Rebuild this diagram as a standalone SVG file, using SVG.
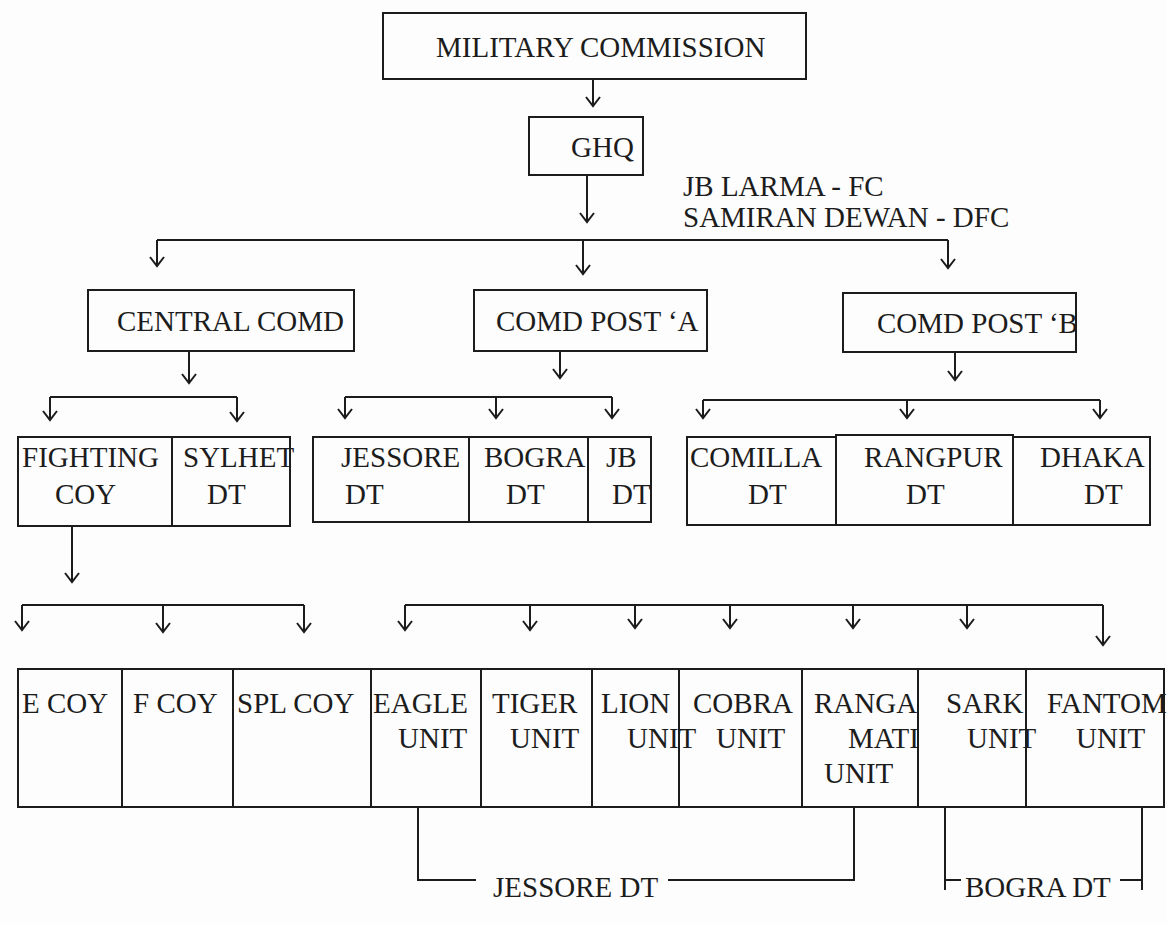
<svg xmlns="http://www.w3.org/2000/svg" width="1167" height="925" viewBox="0 0 1167 925">
<defs>
<style>
.bg{fill:#fdfdfd}
.box{fill:none;stroke:#1c1c1c;stroke-width:2}
.t{font-family:"Liberation Serif","Times New Roman",serif;font-size:29px;fill:#1c1c1c}
.c{stroke:#1c1c1c;stroke-width:2;fill:none}
</style>
<marker id="ah" viewBox="-12 -10 14 20" markerWidth="14" markerHeight="20" refX="0" refY="0" orient="auto" markerUnits="userSpaceOnUse">
<path d="M-9,-7 L0,0 L-9,7" fill="none" stroke="#1c1c1c" stroke-width="2"/>
</marker>
</defs>
<rect class="bg" x="0" y="0" width="1167" height="925"/>

<g id="mc"><rect class="box" x="383" y="13" width="423" height="66"/><text class="t" x="436" y="57">MILITARY COMMISSION</text></g>
<g id="ghq"><rect class="box" x="529" y="117" width="114" height="58"/><text class="t" x="571" y="157">GHQ</text></g>
<g id="leaders"><text class="t" x="683" y="196">JB LARMA - FC</text><text class="t" x="683" y="227">SAMIRAN DEWAN - DFC</text></g>

<g id="central"><rect class="box" x="88" y="290" width="266" height="61"/><text class="t" x="117" y="331">CENTRAL COMD</text></g>
<g id="postA"><rect class="box" x="474" y="290" width="233" height="61"/><text class="t" x="496" y="331">COMD POST ‘A</text></g>
<g id="postB"><rect class="box" x="843" y="293" width="233" height="59"/><text class="t" x="877" y="333">COMD POST ‘B</text></g>

<g id="fighting"><rect class="box" x="18" y="437" width="154" height="89"/><text class="t" x="22" y="467">FIGHTING</text><text class="t" x="55" y="504">COY</text></g>
<g id="sylhet"><rect class="box" x="172" y="437" width="118" height="89"/><text class="t" x="183" y="467">SYLHET</text><text class="t" x="207" y="504">DT</text></g>
<g id="jessore"><rect class="box" x="313" y="437" width="156" height="85"/><text class="t" x="341" y="467">JESSORE</text><text class="t" x="345" y="504">DT</text></g>
<g id="bogra"><rect class="box" x="469" y="437" width="119" height="85"/><text class="t" x="484" y="467">BOGRA</text><text class="t" x="506" y="504">DT</text></g>
<g id="jb"><rect class="box" x="588" y="437" width="63" height="85"/><text class="t" x="606" y="467">JB</text><text class="t" x="612" y="504">DT</text></g>
<g id="comilla"><rect class="box" x="687" y="437" width="149" height="88"/><text class="t" x="690" y="467">COMILLA</text><text class="t" x="748" y="504">DT</text></g>
<g id="rangpur"><rect class="box" x="836" y="435" width="177" height="90"/><text class="t" x="864" y="467">RANGPUR</text><text class="t" x="906" y="504">DT</text></g>
<g id="dhaka"><rect class="box" x="1013" y="437" width="137" height="88"/><text class="t" x="1040" y="467">DHAKA</text><text class="t" x="1084" y="504">DT</text></g>

<g id="ecoy"><rect class="box" x="18" y="669" width="104" height="138"/><text class="t" x="22" y="713">E COY</text></g>
<g id="fcoy"><rect class="box" x="122" y="669" width="111" height="138"/><text class="t" x="133" y="713">F COY</text></g>
<g id="splcoy"><rect class="box" x="233" y="669" width="138" height="138"/><text class="t" x="237" y="713">SPL COY</text></g>
<g id="eagle"><rect class="box" x="371" y="669" width="110" height="138"/><text class="t" x="373" y="713">EAGLE</text><text class="t" x="398" y="748">UNIT</text></g>
<g id="tiger"><rect class="box" x="481" y="669" width="111" height="138"/><text class="t" x="492" y="713">TIGER</text><text class="t" x="510" y="748">UNIT</text></g>
<g id="lion"><rect class="box" x="592" y="669" width="87" height="138"/><text class="t" x="601" y="713">LION</text><text class="t" x="627" y="748">UNIT</text></g>
<g id="cobra"><rect class="box" x="679" y="669" width="123" height="138"/><text class="t" x="693" y="713">COBRA</text><text class="t" x="716" y="748">UNIT</text></g>
<g id="rangamati"><rect class="box" x="802" y="669" width="116" height="138"/><text class="t" x="814" y="713">RANGA</text><text class="t" x="848" y="748">MATI</text><text class="t" x="824" y="783">UNIT</text></g>
<g id="sark"><rect class="box" x="918" y="669" width="108" height="138"/><text class="t" x="946" y="713">SARK</text><text class="t" x="967" y="748">UNIT</text></g>
<g id="fantom"><rect class="box" x="1026" y="669" width="138" height="138"/><text class="t" x="1047" y="713">FANTOM</text><text class="t" x="1076" y="748">UNIT</text></g>

<g id="jessoreDT"><text class="t" x="493" y="897">JESSORE DT</text></g>
<g id="bograDT"><text class="t" x="965" y="897">BOGRA DT</text></g>

<g id="connectors">
<line class="c" x1="593" y1="80" x2="593" y2="106" marker-end="url(#ah)"/>
<line class="c" x1="587" y1="175" x2="587" y2="222" marker-end="url(#ah)"/>
<line class="c" x1="157" y1="240" x2="948" y2="240"/>
<line class="c" x1="157" y1="240" x2="157" y2="266" marker-end="url(#ah)"/>
<line class="c" x1="583" y1="240" x2="583" y2="274" marker-end="url(#ah)"/>
<line class="c" x1="948" y1="240" x2="948" y2="268" marker-end="url(#ah)"/>

<line class="c" x1="189" y1="352" x2="189" y2="383" marker-end="url(#ah)"/>
<line class="c" x1="50" y1="397" x2="237" y2="397"/>
<line class="c" x1="50" y1="397" x2="50" y2="420" marker-end="url(#ah)"/>
<line class="c" x1="237" y1="397" x2="237" y2="421" marker-end="url(#ah)"/>

<line class="c" x1="560" y1="352" x2="560" y2="378" marker-end="url(#ah)"/>
<line class="c" x1="345" y1="397" x2="612" y2="397"/>
<line class="c" x1="345" y1="397" x2="345" y2="418" marker-end="url(#ah)"/>
<line class="c" x1="496" y1="397" x2="496" y2="418" marker-end="url(#ah)"/>
<line class="c" x1="612" y1="397" x2="612" y2="418" marker-end="url(#ah)"/>

<line class="c" x1="955" y1="353" x2="955" y2="380" marker-end="url(#ah)"/>
<line class="c" x1="703" y1="400" x2="1100" y2="400"/>
<line class="c" x1="703" y1="400" x2="703" y2="418" marker-end="url(#ah)"/>
<line class="c" x1="907" y1="400" x2="907" y2="418" marker-end="url(#ah)"/>
<line class="c" x1="1100" y1="400" x2="1100" y2="418" marker-end="url(#ah)"/>

<line class="c" x1="72" y1="526" x2="72" y2="582" marker-end="url(#ah)"/>
<line class="c" x1="22" y1="605" x2="304" y2="605"/>
<line class="c" x1="22" y1="605" x2="22" y2="630" marker-end="url(#ah)"/>
<line class="c" x1="163" y1="605" x2="163" y2="632" marker-end="url(#ah)"/>
<line class="c" x1="304" y1="605" x2="304" y2="632" marker-end="url(#ah)"/>

<line class="c" x1="405" y1="605" x2="1103" y2="605"/>
<line class="c" x1="405" y1="605" x2="405" y2="630" marker-end="url(#ah)"/>
<line class="c" x1="530" y1="605" x2="530" y2="630" marker-end="url(#ah)"/>
<line class="c" x1="635" y1="605" x2="635" y2="628" marker-end="url(#ah)"/>
<line class="c" x1="730" y1="605" x2="730" y2="628" marker-end="url(#ah)"/>
<line class="c" x1="853" y1="605" x2="853" y2="628" marker-end="url(#ah)"/>
<line class="c" x1="967" y1="605" x2="967" y2="628" marker-end="url(#ah)"/>
<line class="c" x1="1103" y1="605" x2="1103" y2="645" marker-end="url(#ah)"/>

<path class="c" d="M418,807 V880 H476"/>
<path class="c" d="M668,880 H854 V807"/>
<path class="c" d="M945,807 V890 M945,880 H961"/>
<path class="c" d="M1120,880 H1142 M1142,807 V890"/>
</g>
</svg>
